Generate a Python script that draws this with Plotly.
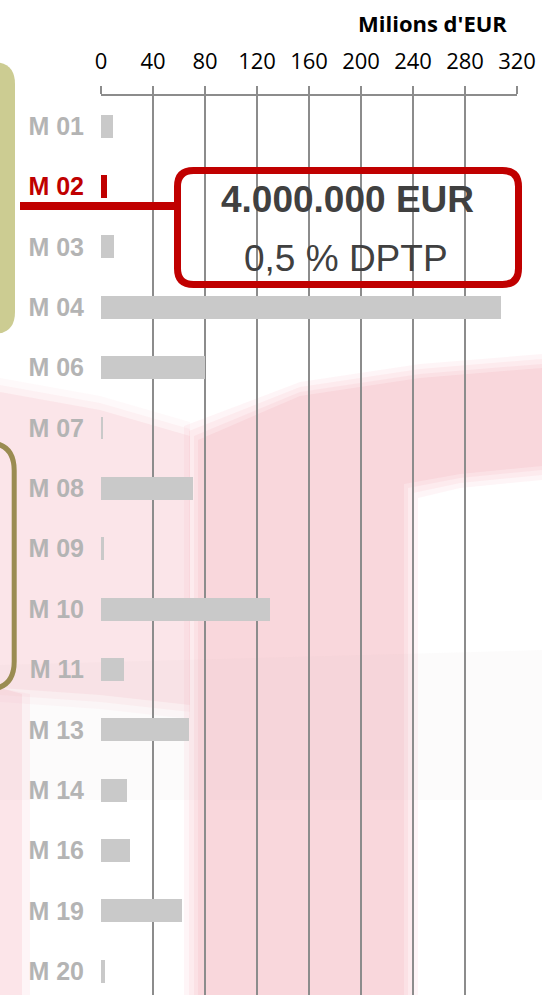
import plotly.graph_objects as go

# ---- data ----
categories = ["M 01", "M 02", "M 03", "M 04", "M 06", "M 07", "M 08", "M 09",
              "M 10", "M 11", "M 13", "M 14", "M 16", "M 19", "M 20"]
values = [9, 4.4, 10, 308, 80, 1.8, 71, 2.6, 130, 18, 68, 20, 22, 62, 3]
highlight = "M 02"
x_ticks = [0, 40, 80, 120, 160, 200, 240, 280, 320]
x_title = "Milions d'EUR"
callout_line1 = "4.000.000 EUR"
callout_line2 = "0,5 % DPTP"

W, H = 542, 995
ML, MR, MT, MB = 101, 25, 96, 0
PW, PH = W - ML - MR, H - MT - MB
ROW = 60.36

RED = "#c00000"
GRAY_BAR = "#c9c9c9"
GRAY_LBL = "#b4b4b4"
GRID = "#8c8c8c"


def px(x):
    return (x - ML) / PW


def py(y):
    return (H - MB - y) / PH


def path_from(points, close=True):
    s = "M " + " L ".join(f"{px(x):.5f},{py(y):.5f}" for x, y in points)
    return s + (" Z" if close else "")


def rounded_rect(x0, y0, x1, y1, r):
    def P(x, y):
        return f"{px(x):.5f},{py(y):.5f}"
    return (f"M {P(x0 + r, y0)} L {P(x1 - r, y0)} Q {P(x1, y0)} {P(x1, y0 + r)} "
            f"L {P(x1, y1 - r)} Q {P(x1, y1)} {P(x1 - r, y1)} "
            f"L {P(x0 + r, y1)} Q {P(x0, y1)} {P(x0, y1 - r)} "
            f"L {P(x0, y0 + r)} Q {P(x0, y0)} {P(x0 + r, y0)} Z")


bar_colors = [RED if c == highlight else GRAY_BAR for c in categories]
tick_text = [f'<span style="color:{RED}">{c}</span>' if c == highlight else c
             for c in categories]

fig = go.Figure()
fig.add_trace(go.Bar(
    x=values, y=list(range(len(categories))), orientation="h",
    marker=dict(color=bar_colors, line=dict(width=0)),
    width=0.38, hoverinfo="skip", showlegend=False,
))

shapes = []
# ---- soft pink watermark (below everything) ----
PINK = "245,175,186"


def pink(a):
    return f"rgba({PINK},{a})"


# left streaky region
for pad, a in [(14, 0.08), (7, 0.1), (0, 0.18)]:
    shapes.append(dict(type="path", xref="paper", yref="paper", layer="below",
                       path=path_from([(0, 392 - pad), (100, 410 - pad), (190, 436 - pad),
                                       (190, 705 + pad), (100, 695 + pad), (0, 688 + pad)]),
                       fillcolor=pink(a), line=dict(width=0)))
for pad, a in [(8, 0.12), (0, 0.22)]:
    shapes.append(dict(type="path", xref="paper", yref="paper", layer="below",
                       path=path_from([(0, 688), (22 + pad, 694), (22 + pad, 995), (0, 995)]),
                       fillcolor=pink(a), line=dict(width=0)))
# top-right band + vertical column (one outline)
for pad, a in [(14, 0.12), (9, 0.14), (4, 0.16), (0, 0.2)]:
    shapes.append(dict(type="path", xref="paper", yref="paper", layer="below",
                       path=path_from([(198 - pad, 440 - pad), (300, 396 - pad), (420, 378 - pad),
                                       (542, 368 - pad), (542, 466 + pad), (460, 474 + pad),
                                       (404 + pad, 484 + pad), (404 + pad, 995), (198 - pad, 995)]),
                       fillcolor=pink(a), line=dict(width=0)))

# faint grey watermark letters band
shapes.append(dict(type="path", xref="paper", yref="paper", layer="below",
                   path=path_from([(0, 665), (542, 650), (542, 800), (0, 800)]),
                   fillcolor="rgba(200,190,190,0.06)", line=dict(width=0)))

# ---- decorative side boxes ----
shapes.append(dict(type="path", xref="paper", yref="paper", layer="below",
                   path=rounded_rect(-40, 62, 15, 334, 22),
                   fillcolor="#cccc92", line=dict(width=0)))
shapes.append(dict(type="path", xref="paper", yref="paper", layer="below",
                   path=rounded_rect(-40, 442.5, 14.2, 689.5, 28),
                   fillcolor="rgba(0,0,0,0)", line=dict(color="#9a8c52", width=5)))

# ---- callout ----
shapes.append(dict(type="line", xref="paper", yref="paper", layer="above",
                   x0=px(20), x1=px(176), y0=py(206), y1=py(206),
                   line=dict(color=RED, width=8)))
shapes.append(dict(type="path", xref="paper", yref="paper", layer="above",
                   path=rounded_rect(177.5, 170.5, 518.5, 284.5, 16),
                   fillcolor="rgba(0,0,0,0)", line=dict(color=RED, width=7)))

annotations = [
    dict(text=f"<b>{x_title}</b>", x=px(432), y=py(23), xref="paper", yref="paper",
         showarrow=False, xanchor="center", yanchor="middle",
         font=dict(family="Open Sans", size=22, color="#000000")),
    dict(text=f"<b>{callout_line1}</b>", x=px(347), y=py(199), xref="paper", yref="paper",
         showarrow=False, xanchor="center", yanchor="middle",
         font=dict(family="Liberation Sans, Arial", size=37, color="#404040")),
    dict(text=callout_line2, x=px(346), y=py(258), xref="paper", yref="paper",
         showarrow=False, xanchor="center", yanchor="middle",
         font=dict(family="Liberation Sans, Arial", size=37, color="#404040")),
]

n_visible = PH / ROW
fig.update_layout(
    width=W, height=H,
    margin=dict(l=ML, r=MR, t=MT, b=MB, pad=0),
    paper_bgcolor="white", plot_bgcolor="rgba(0,0,0,0)",
    shapes=shapes, annotations=annotations,
    bargap=0, showlegend=False,
    xaxis=dict(side="top", range=[0, 320], tickvals=x_ticks,
               ticktext=[str(v) for v in x_ticks],
               showgrid=True, gridcolor=GRID, gridwidth=1.5,
               showline=True, linecolor=GRID, linewidth=1.5,
               ticks="outside", ticklen=8, tickcolor=GRID, tickwidth=1.5,
               ticklabelstandoff=8, zeroline=False, automargin=False,
               tickfont=dict(family="Open Sans", size=22, color="#000000")),
    yaxis=dict(range=[-0.5 + n_visible, -0.5], tickvals=list(range(len(categories))),
               ticktext=tick_text, showgrid=False, zeroline=False, showline=False,
               ticks="", ticklabelstandoff=16, automargin=False,
               tickfont=dict(family="Liberation Sans, Arial", size=25, color=GRAY_LBL,
                             weight="bold")),
)

fig.write_html("out.html", config={"displayModeBar": False},
               post_script="document.body.style.margin='0';document.body.style.overflow='hidden';")
